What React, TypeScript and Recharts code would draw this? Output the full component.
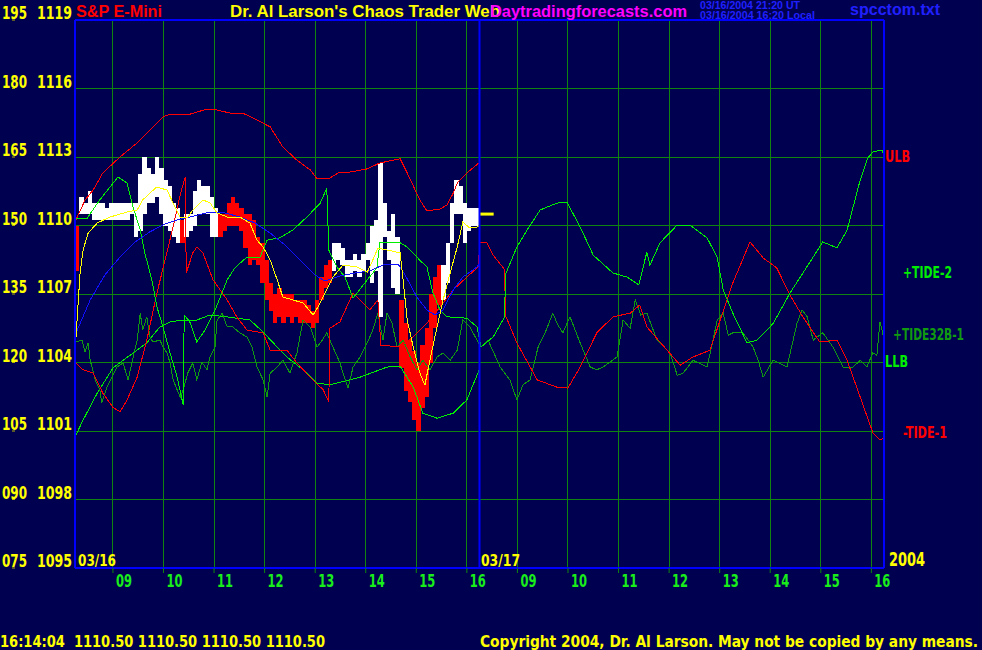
import React from "react"
import { ComposedChart, Bar, Line, XAxis, YAxis, CartesianGrid, ReferenceLine } from "recharts"

const BG = "#000050"
const NARROW = "'Liberation Sans Narrow', 'Arial Narrow', 'DejaVu Sans Condensed', sans-serif"
const WIDE = "'Liberation Sans', Arial, sans-serif"
const GRID = "#0f850f"

// price axis ticks and the matching oscillator scale labels
const PRICE_TICKS = [1095, 1098, 1101, 1104, 1107, 1110, 1113, 1116, 1119]
const OSC_LABELS = ["075", "090", "105", "120", "135", "150", "165", "180", "195"]

// hours since 08:15 of 03/16, two sessions of 8 hours
const HOUR_TICKS = [0.75, 1.75, 2.75, 3.75, 4.75, 5.75, 6.75, 7.75, 8.75, 9.75, 10.75, 11.75, 12.75, 13.75, 14.75, 15.75]
const HOUR_LABELS = ["09", "10", "11", "12", "13", "14", "15", "16", "09", "10", "11", "12", "13", "14", "15", "16"]

// 5 minute bars, 03/16
const BAR_HIGH = [
  1110.0, 1111.25, 1111.0, 1111.5, 1111.0, 1111.0, 1111.0, 1110.75, 1111.0, 1111.0,
  1111.0, 1111.0, 1111.0, 1111.0, 1111.0, 1112.25, 1113.0, 1112.5, 1112.25, 1113.0,
  1112.5, 1112.0, 1111.75, 1111.0, 1110.75, 1110.25, 1110.5, 1110.5, 1111.5, 1112.0,
  1111.75, 1111.75, 1111.25, 1110.75, 1110.5, 1110.5, 1111.0, 1111.25, 1111.0, 1110.75,
  1110.5, 1110.5, 1110.25, 1109.5, 1109.25, 1108.5, 1107.5, 1107.0, 1107.25, 1107.0,
  1107.0, 1107.0, 1106.75, 1106.75, 1106.75, 1106.5, 1106.25, 1106.75, 1107.75, 1108.25,
  1108.5, 1109.25, 1109.25, 1109.0, 1108.5, 1108.5, 1108.75, 1108.5, 1108.75, 1109.25,
  1110.0, 1110.25, 1112.75, 1111.0, 1109.75, 1110.5, 1109.5, 1106.75, 1105.75, 1105.0,
  1104.5, 1104.0, 1104.75, 1105.5, 1107.0, 1107.75, 1108.25, 1108.25, 1109.25, 1111.0,
  1112.0, 1111.75, 1111.0, 1110.75, 1110.75, 1110.75,
]
const BAR_LOW = [
  1108.0, 1110.5, 1110.5, 1110.5, 1110.25, 1110.25, 1110.25, 1110.25, 1110.25, 1110.25,
  1110.25, 1110.25, 1110.25, 1110.5, 1109.5, 1109.75, 1110.5, 1111.0, 1111.0, 1111.25,
  1110.5, 1110.0, 1109.75, 1109.5, 1109.25, 1109.25, 1109.5, 1109.75, 1110.0, 1110.5,
  1110.5, 1110.5, 1109.5, 1109.5, 1109.5, 1109.75, 1110.0, 1110.0, 1110.0, 1109.75,
  1109.0, 1108.25, 1108.5, 1108.25, 1107.5, 1106.75, 1106.25, 1105.75, 1106.0, 1105.75,
  1106.0, 1105.75, 1106.0, 1105.75, 1105.75, 1105.75, 1105.5, 1105.75, 1106.75, 1107.25,
  1107.5, 1108.0, 1108.5, 1108.25, 1107.75, 1107.75, 1108.0, 1107.75, 1108.0, 1108.5,
  1107.5, 1108.0, 1106.0, 1109.5, 1108.5, 1107.25, 1107.0, 1103.75, 1102.75, 1102.25,
  1101.5, 1101.0, 1102.0, 1102.5, 1104.0, 1105.5, 1106.5, 1106.75, 1107.5, 1109.25,
  1110.5, 1110.5, 1109.25, 1109.75, 1110.0, 1110.0,
]
const DOWN_BARS = [0, 25, 34, 35, 36, 37, 38, 39, 40, 41, 42, 43, 44, 45, 46, 47, 48, 49, 50, 51, 52, 53,
  54, 55, 56, 57, 58, 59, 60, 77, 78, 79, 80, 81, 82, 83, 84, 85, 86]

// moving averages of price
const FAST_MA = [
  [0.02, 1105.12], [0.1, 1107.92], [0.16, 1108.93], [0.26, 1109.67], [0.44, 1110.11], [0.69, 1110.37],
  [1.03, 1110.59], [1.23, 1110.68], [1.34, 1111.12], [1.48, 1111.42], [1.62, 1111.69], [1.82, 1111.55],
  [1.94, 1110.99], [2.08, 1110.37], [2.22, 1110.33], [2.33, 1110.68], [2.53, 1111.12], [2.67, 1110.99],
  [2.81, 1110.55], [3.01, 1110.37], [3.26, 1110.37], [3.46, 1110.11], [3.6, 1109.36], [3.72, 1109.06],
  [3.86, 1108.49], [4.0, 1107.61], [4.11, 1106.87], [4.31, 1106.74], [4.51, 1106.61], [4.71, 1106.08],
  [4.85, 1106.61], [5.1, 1107.74], [5.3, 1108.27], [5.58, 1108.18], [5.78, 1107.96], [5.89, 1108.49],
  [5.99, 1109.01], [6.17, 1108.93], [6.43, 1108.8], [6.49, 1107.61], [6.57, 1105.86], [6.69, 1104.68],
  [6.82, 1103.54], [6.92, 1103.01], [7.02, 1104.11], [7.16, 1105.55], [7.28, 1106.74], [7.42, 1107.92],
  [7.56, 1109.06], [7.67, 1110.15], [7.81, 1109.89], [7.95, 1109.93], [8.01, 1110.02],
]
const SLOW_MA = [
  [0.02, 1105.29], [0.3, 1106.74], [0.59, 1107.83], [0.89, 1108.62], [1.19, 1109.28], [1.48, 1109.72],
  [1.78, 1110.07], [2.08, 1110.28], [2.37, 1110.42], [2.67, 1110.59], [2.97, 1110.55], [3.26, 1110.37],
  [3.56, 1110.11], [3.86, 1109.67], [4.15, 1109.15], [4.45, 1108.49], [4.75, 1107.83], [4.94, 1107.57],
  [5.24, 1107.79], [5.54, 1107.92], [5.83, 1108.01], [6.13, 1108.31], [6.39, 1108.31], [6.53, 1107.83],
  [6.76, 1106.87], [6.96, 1106.3], [7.12, 1106.08], [7.28, 1106.3], [7.48, 1107.17], [7.67, 1107.74],
  [7.95, 1108.18], [8.01, 1108.36],
]
const LAST_PRICE = [[8.0, 1110.5], [8.28, 1110.5]]

// oscillator-scale curves
const ULB = [
  [0, 150.8], [0.2, 155.6], [0.36, 157.8], [0.55, 161.5], [0.89, 165.0], [1.23, 168.1], [1.48, 170.9],
  [1.74, 173.8], [1.88, 174.4], [2.22, 174.2], [2.61, 175.5], [2.81, 175.3], [3.07, 174.6], [3.32, 174.6],
  [3.6, 173.1], [3.86, 171.6], [4.11, 167.2], [4.39, 164.3], [4.65, 162.2], [4.79, 160.2], [5.04, 160.4],
  [5.24, 161.7], [5.44, 161.7], [5.78, 162.4], [6.03, 163.7], [6.43, 164.6], [6.57, 161.5], [6.82, 155.6],
  [6.96, 153.2], [7.22, 153.6], [7.36, 154.5], [7.48, 157.1], [7.57, 159.5], [7.75, 161.5], [8.01, 163.9],
]
const LLB = [
  [0, 103.7], [0.16, 107.4], [0.44, 113.3], [0.75, 118.8], [1.09, 121.6], [1.42, 124.3], [1.68, 127.8],
  [1.88, 128.9], [2.14, 129.3], [2.41, 129.3], [2.67, 130.4], [3.01, 130.0], [3.2, 129.7], [3.46, 129.3],
  [3.72, 126.7], [3.92, 124.3], [4.19, 121.2], [4.51, 118.4], [4.79, 115.5], [5.04, 115.1], [5.64, 116.8],
  [6.17, 119.0], [6.43, 119.2], [6.69, 114.6], [6.88, 108.9], [7.16, 107.8], [7.48, 108.9], [7.75, 111.8],
  [8.01, 118.8],
]
const TIDE_2 = [
  [0, 151.6], [0.24, 151.6], [0.49, 155.6], [0.69, 158.4], [0.85, 160.6], [1.03, 159.3], [1.15, 154.0],
  [1.29, 149.0], [1.38, 144.0], [1.52, 138.1], [1.62, 132.2], [1.74, 127.8], [1.88, 122.1], [2.02, 116.8],
  [2.14, 110.7], [2.16, 130.4], [2.27, 128.9], [2.41, 124.5], [2.57, 127.1], [2.77, 131.5], [3.01, 138.1],
  [3.16, 140.7], [3.4, 143.1], [3.66, 143.1], [3.8, 146.8], [4.05, 147.3], [4.31, 149.0], [4.59, 151.9],
  [4.85, 154.9], [4.98, 158.2], [5.02, 144.6], [5.18, 140.9], [5.34, 138.7], [5.5, 134.1], [5.78, 138.1],
  [5.97, 140.7], [6.03, 146.2], [6.43, 146.2], [6.57, 145.3], [6.82, 142.4], [6.96, 140.9], [7.08, 135.2],
  [7.22, 131.5], [7.36, 130.0], [7.75, 129.7], [7.95, 127.8], [8.03, 123.4], [8.27, 125.6], [8.5, 130.0],
  [8.51, 139.2], [8.74, 145.3], [8.94, 149.0], [9.2, 153.4], [9.53, 154.9], [9.73, 155.1], [9.99, 149.7],
  [10.25, 143.5], [10.64, 139.6], [10.92, 138.7], [11.15, 137.0], [11.31, 144.2], [11.37, 141.3],
  [11.57, 146.2], [11.91, 150.1], [12.16, 150.1], [12.5, 147.3], [12.7, 143.1], [12.82, 135.9],
  [13.01, 130.8], [13.29, 124.3], [13.49, 124.9], [13.69, 127.1], [13.81, 128.6], [14.14, 135.2],
  [14.6, 143.1], [14.79, 146.4], [15.07, 145.1], [15.27, 149.0], [15.53, 160.0], [15.68, 164.8],
  [15.78, 166.1], [15.92, 166.5], [15.98, 166.3], [15.99, 152.3], [16.0, 138.5],
]
const TIDE_1 = [
  [0, 120.1], [0.16, 118.4], [0.36, 117.7], [0.55, 113.3], [0.75, 110.2], [0.89, 109.2], [1.03, 111.8],
  [1.23, 116.8], [1.42, 124.9], [1.62, 135.2], [1.78, 142.4], [1.94, 149.7], [2.08, 156.7], [2.18, 160.6],
  [2.2, 139.6], [2.33, 144.0], [2.41, 145.3], [2.53, 144.0], [2.73, 138.1], [3.01, 133.7], [3.2, 130.0],
  [3.4, 127.1], [3.72, 126.5], [3.86, 122.7], [4.19, 122.7], [4.39, 119.9], [4.65, 116.8], [4.91, 114.0],
  [5.02, 111.4], [5.04, 127.5], [5.24, 128.9], [5.5, 135.2], [5.7, 133.0], [5.83, 131.5], [5.99, 133.7],
  [6.05, 123.8], [6.43, 123.4], [6.69, 125.6], [6.96, 128.6], [7.22, 132.2], [7.48, 135.9], [7.75, 138.7],
  [7.97, 140.9], [8.01, 146.2], [8.15, 146.2], [8.27, 143.5], [8.5, 140.3], [8.51, 130.4], [8.74, 124.3],
  [9.14, 116.2], [9.53, 114.6], [9.75, 114.4], [9.99, 119.0], [10.32, 126.5], [10.64, 130.0],
  [10.98, 130.8], [11.17, 132.6], [11.31, 127.8], [11.71, 122.7], [11.97, 119.4], [12.22, 121.2],
  [12.56, 122.7], [12.76, 129.3], [13.01, 137.4], [13.35, 146.4], [13.61, 142.9], [13.88, 140.7],
  [14.14, 134.8], [14.4, 129.9], [14.73, 124.5], [15.07, 124.9], [15.27, 120.5], [15.53, 112.4],
  [15.78, 104.6], [15.92, 103.0], [16.0, 103.5],
]
const TIDE32B_1 = [
  [0, 124.5], [0.14, 124.9], [0.2, 122.3], [0.26, 124.3], [0.3, 120.5], [0.4, 116.2], [0.49, 114.0],
  [0.53, 111.1], [0.63, 114.6], [0.73, 116.8], [0.83, 119.0], [0.95, 119.9], [1.05, 116.2], [1.15, 121.2],
  [1.23, 124.9], [1.29, 130.8], [1.34, 127.1], [1.42, 130.0], [1.48, 125.6], [1.54, 124.5], [1.68, 124.9],
  [1.74, 123.4], [1.82, 122.1], [1.88, 119.9], [1.94, 116.2], [2.08, 112.4], [2.14, 114.0], [2.23, 117.7],
  [2.33, 119.9], [2.41, 116.2], [2.51, 120.1], [2.61, 118.4], [2.67, 121.2], [2.77, 123.4], [2.81, 129.3],
  [2.91, 130.8], [3.01, 127.8], [3.12, 127.8], [3.26, 126.5], [3.4, 125.6], [3.5, 123.4], [3.6, 119.0],
  [3.72, 116.2], [3.8, 112.4], [3.86, 117.7], [4.0, 119.0], [4.11, 120.5], [4.25, 117.7], [4.39, 122.1],
  [4.51, 129.3], [4.65, 127.8], [4.79, 123.4], [4.89, 124.9], [4.98, 126.5], [5.1, 123.4], [5.24, 119.9],
  [5.3, 117.7], [5.4, 114.4], [5.5, 119.0], [5.64, 121.2], [5.78, 124.3], [5.89, 127.1], [5.99, 130.8],
  [6.09, 124.9], [6.17, 130.8], [6.27, 128.6], [6.37, 123.4], [6.49, 124.9], [6.63, 121.2], [6.76, 118.4],
  [6.88, 120.5], [7.02, 118.4], [7.16, 121.2], [7.28, 122.1], [7.42, 120.5], [7.56, 122.7], [7.67, 129.3],
  [7.81, 127.8], [7.95, 124.9], [8.03, 123.4], [8.17, 124.9], [8.41, 119.0], [8.6, 116.2], [8.74, 111.8],
  [8.86, 115.1], [9.0, 116.2], [9.16, 123.4], [9.32, 127.1], [9.45, 130.8], [9.55, 128.2], [9.65, 126.5],
  [9.79, 130.0], [9.99, 124.3], [10.19, 119.0], [10.32, 118.4], [10.44, 119.0], [10.72, 121.2],
  [10.84, 129.3], [10.98, 127.5], [11.08, 133.7], [11.19, 130.4], [11.31, 130.8], [11.51, 124.9],
  [11.77, 122.1], [11.91, 117.2], [12.03, 117.7], [12.22, 120.5], [12.5, 119.0], [12.62, 124.9],
  [12.7, 129.3], [12.82, 130.8], [12.92, 126.0], [13.01, 126.5], [13.21, 126.5], [13.41, 123.4],
  [13.51, 120.5], [13.61, 116.8], [13.81, 120.5], [14.08, 119.0], [14.28, 128.6], [14.38, 131.5],
  [14.48, 130.0], [14.6, 124.9], [14.79, 126.5], [14.99, 123.4], [15.19, 119.0], [15.39, 119.0],
  [15.53, 120.5], [15.66, 119.0], [15.78, 122.1], [15.86, 121.6], [15.92, 128.9], [15.96, 127.1],
  [16.0, 124.9],
]

const barRows = BAR_HIGH.map((hi, i) => ({ h: (i + 0.5) / 12, range: [BAR_LOW[i], hi] }))
const rows = (pts: number[][]) => pts.map(([h, v]) => ({ h, v }))

function PriceTick({ y, payload }: any) {
  const i = PRICE_TICKS.indexOf(payload.value)
  return (
    <g fill="#ffff00" fontFamily={NARROW} fontWeight="bold" fontSize={17}>
      <text x={2} y={y - 1} textLength={25} lengthAdjust="spacingAndGlyphs">{OSC_LABELS[i]}</text>
      <text x={37} y={y - 1} textLength={35} lengthAdjust="spacingAndGlyphs">{payload.value}</text>
    </g>
  )
}

function HourTick({ x, y, payload }: any) {
  const i = HOUR_TICKS.indexOf(payload.value)
  return (
    <text x={x + 3} y={y + 12} fill="#1aee1a" fontFamily={NARROW} fontWeight="bold" fontSize={17}
      textLength={16} lengthAdjust="spacingAndGlyphs">{HOUR_LABELS[i]}</text>
  )
}

// one price bar: a high-low stick centred on its 5 minute slot
function PriceBar({ x, y, width, height, index }: any) {
  const top = Math.min(y, y + height)
  const h = Math.max(1, Math.abs(height))
  return (
    <rect x={x + width / 2 - 2.2} y={top} width={4.4} height={h} shapeRendering="crispEdges"
      fill={DOWN_BARS.includes(index) ? "#ff0000" : "#ffffff"} />
  )
}

function T({ x, y, c, s, w, f = NARROW, children }: any) {
  return (
    <text x={x} y={y} fill={c} fontSize={s} fontWeight="bold" fontFamily={f}
      textLength={w} lengthAdjust="spacingAndGlyphs" xmlSpace="preserve">{children}</text>
  )
}

const lineProps = { dot: false, strokeWidth: 1, isAnimationActive: false, shapeRendering: "crispEdges" } as any

export default function App() {
  return (
    <div style={{ position: "absolute", left: 0, top: 0, width: 982, height: 650, background: BG }}>
      <ComposedChart width={982} height={650} data={barRows}
        margin={{ top: 20, right: 98, bottom: 52, left: 0 }}>
        <CartesianGrid stroke={GRID} yAxisId="price" horizontalValues={PRICE_TICKS} verticalValues={HOUR_TICKS}
          shapeRendering="crispEdges" />
        <XAxis dataKey="h" type="number" domain={[0, 16]} ticks={HOUR_TICKS} interval={0} height={30}
          axisLine={false} tickSize={5} tickLine={{ stroke: GRID }} tick={<HourTick />} allowDataOverflow />
        <YAxis yAxisId="price" domain={[1095, 1119]} ticks={PRICE_TICKS} width={75} interval={0}
          axisLine={false} tickSize={3} tickLine={{ stroke: "#b0b000" }} tick={<PriceTick />} allowDataOverflow />
        <YAxis yAxisId="osc" domain={[75, 195]} hide allowDataOverflow />

        <Line yAxisId="osc" data={rows(LLB)} dataKey="v" stroke="#00ee00" {...lineProps} />
        <Line yAxisId="osc" data={rows(ULB)} dataKey="v" stroke="#ff0000" {...lineProps} />
        <Line yAxisId="osc" data={rows(TIDE32B_1)} dataKey="v" stroke="#109a10" {...lineProps} />
        <Line yAxisId="osc" data={rows(TIDE_1)} dataKey="v" stroke="#ff0000" {...lineProps} />
        <Line yAxisId="osc" data={rows(TIDE_2)} dataKey="v" stroke="#00ee00" {...lineProps} />

        <Bar yAxisId="price" dataKey="range" barSize={4} isAnimationActive={false} shape={<PriceBar />} />

        <Line yAxisId="price" data={rows(SLOW_MA)} dataKey="v" stroke="#1010ff" {...lineProps} />
        <Line yAxisId="price" data={rows(FAST_MA)} dataKey="v" stroke="#ffff00" {...lineProps} />
        <Line yAxisId="price" data={rows(LAST_PRICE)} dataKey="v" stroke="#ffff00" dot={false} strokeWidth={3}
          isAnimationActive={false} />

        <ReferenceLine yAxisId="price" x={0} stroke="#0000ff" strokeWidth={2} />
        <ReferenceLine yAxisId="price" x={8} stroke="#0000ff" strokeWidth={2} />
        <ReferenceLine yAxisId="price" x={16} stroke="#0000ff" strokeWidth={2} />
        <ReferenceLine yAxisId="price" y={1119} stroke="#0000ff" strokeWidth={2} />
        <ReferenceLine yAxisId="price" y={1095} stroke="#0000ff" strokeWidth={2} />
      </ComposedChart>

      <svg width={982} height={650} style={{ position: "absolute", left: 0, top: 0, pointerEvents: "none" }}>
        <T x={76} y={17} c="#ff0000" s={16} w={86} f={WIDE}>S&amp;P E-Mini</T>
        <T x={230} y={17} c="#ffff00" s={16} w={270} f={WIDE}>Dr. Al Larson's Chaos Trader Web</T>
        <T x={490} y={17} c="#ff00ff" s={16} w={197} f={WIDE}>Daytradingforecasts.com</T>
        <T x={700} y={9} c="#2020ff" s={10} w={100} f={WIDE}>03/16/2004 21:20 UT</T>
        <T x={700} y={19} c="#2020ff" s={10} w={115} f={WIDE}>03/16/2004 16:20 Local</T>
        <T x={850} y={15} c="#2020ff" s={16} w={90} f={WIDE}>spcctom.txt</T>

        <T x={885} y={162} c="#ff0000" s={16} w={25}>ULB</T>
        <T x={903} y={278} c="#00ee00" s={16} w={49}>+TIDE-2</T>
        <T x={893} y={340} c="#109a10" s={16} w={71}>+TIDE32B-1</T>
        <T x={885} y={367} c="#00ee00" s={16} w={23}>LLB</T>
        <T x={903} y={438} c="#ff0000" s={16} w={44}>-TIDE-1</T>

        <T x={78} y={566} c="#ffff00" s={16} w={38}>03/16</T>
        <T x={481} y={566} c="#ffff00" s={16} w={39}>03/17</T>
        <T x={889} y={566} c="#ffff00" s={19} w={36}>2004</T>

        <T x={0} y={647} c="#ffff00" s={15} w={325}>16:14:04  1110.50 1110.50 1110.50 1110.50</T>
        <T x={480} y={647} c="#ffff00" s={15} w={498}>Copyright 2004, Dr. Al Larson. May not be copied by any means.</T>
      </svg>
    </div>
  )
}
